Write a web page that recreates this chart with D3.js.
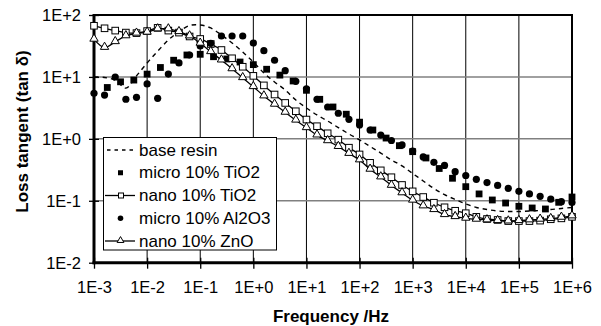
<!DOCTYPE html>
<html>
<head>
<meta charset="utf-8">
<script src="https://cdn.jsdelivr.net/npm/d3@7"></script>
<style>
  html, body { margin: 0; padding: 0; background: #fff; }
  svg { display: block; font-family: "Liberation Sans", Arial, sans-serif; }
</style>
</head>
<body>
<svg id="chart" width="601" height="326"></svg>
<script>
// Frequency sweep, 5 points per decade (Hz)
const freqFine = [
  1.00e-3,1.58e-3,2.51e-3,3.98e-3,6.31e-3,
  1.00e-2,1.58e-2,2.51e-2,3.98e-2,6.31e-2,
  1.00e-1,1.58e-1,2.51e-1,3.98e-1,6.31e-1,
  1.00e0,1.58e0,2.51e0,3.98e0,6.31e0,
  1.00e1,1.58e1,2.51e1,3.98e1,6.31e1,
  1.00e2,1.58e2,2.51e2,3.98e2,6.31e2,
  1.00e3,1.58e3,2.51e3,3.98e3,6.31e3,
  1.00e4,1.58e4,2.51e4,3.98e4,6.31e4,
  1.00e5,1.58e5,2.51e5,3.98e5,6.31e5,
  1.00e6
];
// Frequency sweep, 4 points per decade (Hz)
const freqCoarse = [
  1.78e-3,3.16e-3,5.62e-3,1.00e-2,
  1.78e-2,3.16e-2,5.62e-2,1.00e-1,
  1.78e-1,3.16e-1,5.62e-1,1.00e0,
  1.78e0,3.16e0,5.62e0,1.00e1,
  1.78e1,3.16e1,5.62e1,1.00e2,
  1.78e2,3.16e2,5.62e2,1.00e3,
  1.78e3,3.16e3,5.62e3,1.00e4,
  1.78e4,3.16e4,5.62e4,1.00e5,
  1.78e5,3.16e5,5.62e5,1.00e6
];

const baseResin = [10, 9.8, 8.9, 6.6, 10.4, 16.8, 26, 39.5, 54, 67.7, 69, 61.7, 47.5, 35.3, 25.3,
  17.4, 11.6, 8.3, 6.15, 4.24, 3.15, 2.43, 1.94, 1.52, 1.2, 0.96, 0.753, 0.59, 0.456, 0.365,
  0.276, 0.209, 0.158, 0.126, 0.105, 0.0888, 0.078, 0.0723, 0.0684, 0.0671, 0.0671, 0.0684,
  0.0697, 0.0723, 0.0752, 0.078];
const microTiO2 = [6.75, 8.34, 8.9, 11.1, 14.2, 18.6, 22.6, 23.2, 21.2, 19.5, 17.4, 15.8, 13.3,
  10.7, 8.6, 6.08, 4.35, 3.27, 2.5, 1.86, 1.39, 1.03, 0.776, 0.621, 0.491, 0.332, 0.231, 0.169,
  0.129, 0.103, 0.092, 0.0814, 0.0765, 0.0737, 0.0945, 0.115];
const nanoTiO2 = [67, 61, 56, 52, 51, 55, 62, 56, 52, 45, 41, 34, 27.2, 20, 14.6, 10.4, 7.3, 5.2,
  3.8, 2.79, 2.05, 1.6, 1.23, 0.97, 0.72, 0.56, 0.41, 0.31, 0.24, 0.18, 0.142, 0.115, 0.093,
  0.0785, 0.069, 0.063, 0.055, 0.0508, 0.049, 0.047, 0.047, 0.047, 0.0478, 0.0503, 0.052, 0.055];
const microAl2O3 = [5.44, 5.1, 9.98, 4.36, 4.69, 7.7, 4.52, 11.1, 16.8, 22.6, 31.6, 34.9, 45.8,
  45.8, 45.8, 35.3, 26.5, 18.6, 12.6, 8.5, 6.4, 4.36, 3.27, 2.59, 2.07, 1.68, 1.39, 1.15, 0.94,
  0.797, 0.637, 0.51, 0.418, 0.372, 0.295, 0.256, 0.222, 0.197, 0.177, 0.159, 0.142, 0.129,
  0.118, 0.106, 0.0966, 0.0938];
const nanoZnO = [40.5, 29.9, 37, 46, 50.7, 52.6, 59.5, 59.5, 53.7, 45.8, 34.9, 25.5, 18.7, 13.5,
  9.7, 6.95, 4.92, 3.61, 2.68, 2.0, 1.51, 1.15, 0.93, 0.75, 0.58, 0.456, 0.322, 0.242, 0.177,
  0.134, 0.102, 0.0824, 0.0718, 0.0596, 0.0553, 0.0521, 0.0502, 0.049, 0.0477, 0.047, 0.0477,
  0.049, 0.0502, 0.0514, 0.054, 0.0568];

const xTicks = [1e-3,1e-2,1e-1,1e0,1e1,1e2,1e3,1e4,1e5,1e6];
const xTickLabels = ["1E-3","1E-2","1E-1","1E+0","1E+1","1E+2","1E+3","1E+4","1E+5","1E+6"];
const yTicks = [1e-2,1e-1,1e0,1e1,1e2];
const yTickLabels = ["1E-2","1E-1","1E+0","1E+1","1E+2"];

const legendLabels = ["base resin","micro 10% TiO2","nano 10% TiO2","micro 10% Al2O3","nano 10% ZnO"];

const svg = d3.select("#chart");
const L = 94, R = 572, T = 15, B = 262.7;
const x = d3.scaleLog().domain([1e-3, 1e6]).range([L, R]);
const y = d3.scaleLog().domain([1e-2, 1e2]).range([B, T]);

// Grid: black verticals, grey horizontals
svg.append("g").selectAll("line").data(xTicks.slice(1, -1)).join("line")
  .attr("x1", d => x(d)).attr("x2", d => x(d)).attr("y1", T).attr("y2", B)
  .attr("stroke", "#000").attr("stroke-width", 1);
svg.append("g").selectAll("line").data(yTicks.slice(1, -1)).join("line")
  .attr("x1", L).attr("x2", R).attr("y1", d => y(d)).attr("y2", d => y(d))
  .attr("stroke", "#808080").attr("stroke-width", 1.5);

// Plot frame (top and right)
svg.append("path")
  .attr("d", `M${L},${T}H${R}V${B}`)
  .attr("fill", "none").attr("stroke", "#000").attr("stroke-width", 2);

// Axes
const xAxis = svg.append("g").attr("transform", `translate(0,${B})`)
  .call(d3.axisBottom(x).tickValues(xTicks).tickFormat((d, i) => xTickLabels[i]).tickSizeOuter(0));
const yAxis = svg.append("g").attr("transform", `translate(${L},0)`)
  .call(d3.axisLeft(y).tickValues(yTicks).tickFormat((d, i) => yTickLabels[i]).tickSizeOuter(0));

xAxis.select(".domain").attr("stroke-width", 3).attr("d", `M${L - 1.5},0H${R + 1}`);
yAxis.select(".domain").attr("stroke-width", 3).attr("d", `M0,${T - 1}V${B + 1.5}`);
xAxis.selectAll(".tick line").attr("y1", -5).attr("y2", 6).attr("stroke-width", 1.3);
yAxis.selectAll(".tick line").attr("x1", -5).attr("x2", 5).attr("stroke-width", 1.3);
xAxis.selectAll(".tick text").attr("y", 30).attr("dy", null)
  .attr("font-size", 16.5).attr("fill", "#000").attr("font-family", null);
yAxis.selectAll(".tick text").attr("x", -13).attr("dy", "0.35em")
  .attr("font-size", 16.5).attr("fill", "#000").attr("font-family", null);

// Axis titles
svg.append("text").attr("x", 331).attr("y", 321.5).attr("text-anchor", "middle")
  .attr("font-size", 17).attr("font-weight", "bold").text("Frequency /Hz");
svg.append("text").attr("transform", "translate(28,131.5) rotate(-90)")
  .attr("text-anchor", "middle").attr("font-size", 17).attr("font-weight", "bold")
  .text("Loss tangent (tan δ)");

// Series
const curve = d3.line().curve(d3.curveCatmullRom.alpha(0.5))
  .x(d => x(d[0])).y(d => y(d[1]));
const pairs = (fs, vs) => vs.map((v, i) => [fs[i], v]);

const plot = svg.append("g");
plot.append("path").attr("d", curve(pairs(freqFine, baseResin)))
  .attr("fill", "none").attr("stroke", "#000").attr("stroke-width", 1.4)
  .attr("stroke-dasharray", "4.5,4");

plot.append("g").selectAll("rect").data(pairs(freqCoarse, microTiO2)).join("rect")
  .attr("x", d => x(d[0]) - 3.4).attr("y", d => y(d[1]) - 3.4)
  .attr("width", 6.8).attr("height", 6.8).attr("fill", "#000");

plot.append("path").attr("d", curve(pairs(freqFine, nanoTiO2)))
  .attr("fill", "none").attr("stroke", "#000").attr("stroke-width", 1.3);
plot.append("g").selectAll("rect").data(pairs(freqFine, nanoTiO2)).join("rect")
  .attr("x", d => x(d[0]) - 3.3).attr("y", d => y(d[1]) - 3.3)
  .attr("width", 6.6).attr("height", 6.6).attr("fill", "#fff").attr("stroke", "#000").attr("stroke-width", 1);

plot.append("g").selectAll("circle").data(pairs(freqFine, microAl2O3)).join("circle")
  .attr("cx", d => x(d[0])).attr("cy", d => y(d[1])).attr("r", 3.6).attr("fill", "#000");

const tri = d3.symbol().type(d3.symbolTriangle).size(30);
plot.append("path").attr("d", curve(pairs(freqFine, nanoZnO)))
  .attr("fill", "none").attr("stroke", "#000").attr("stroke-width", 1.3);
plot.append("g").selectAll("path").data(pairs(freqFine, nanoZnO)).join("path")
  .attr("transform", d => `translate(${x(d[0])},${y(d[1]) - 0.5})`)
  .attr("d", tri()).attr("fill", "#fff").attr("stroke", "#000").attr("stroke-width", 1);

// Legend
const lg = svg.append("g");
lg.append("rect").attr("x", 103.5).attr("y", 137.5).attr("width", 173).attr("height", 112.5)
  .attr("fill", "#fff").attr("stroke", "#000").attr("stroke-width", 1);
const rowY = i => 150 + i * 22.75;
legendLabels.forEach((lab, i) => {
  const cy = rowY(i);
  lg.append("text").attr("x", 139).attr("y", cy + 5.6).attr("font-size", 17).text(lab);
});
lg.append("line").attr("x1", 107).attr("x2", 134).attr("y1", rowY(0)).attr("y2", rowY(0))
  .attr("stroke", "#000").attr("stroke-width", 1.3).attr("stroke-dasharray", "3.5,4");
lg.append("rect").attr("x", 118).attr("y", rowY(1) - 2.5).attr("width", 5).attr("height", 5).attr("fill", "#000");
lg.append("line").attr("x1", 105).attr("x2", 135).attr("y1", rowY(2)).attr("y2", rowY(2))
  .attr("stroke", "#000").attr("stroke-width", 1.3);
lg.append("rect").attr("x", 118.5).attr("y", rowY(2) - 2.5).attr("width", 5).attr("height", 5)
  .attr("fill", "#fff").attr("stroke", "#000").attr("stroke-width", 1);
lg.append("circle").attr("cx", 120.5).attr("cy", rowY(3)).attr("r", 2.8).attr("fill", "#000");
lg.append("line").attr("x1", 105).attr("x2", 135).attr("y1", rowY(4)).attr("y2", rowY(4))
  .attr("stroke", "#000").attr("stroke-width", 1.3);
lg.append("path").attr("transform", `translate(120.5,${rowY(4) - 0.5})`)
  .attr("d", d3.symbol().type(d3.symbolTriangle).size(20)()).attr("fill", "#fff")
  .attr("stroke", "#000").attr("stroke-width", 1);
</script>
</body>
</html>
